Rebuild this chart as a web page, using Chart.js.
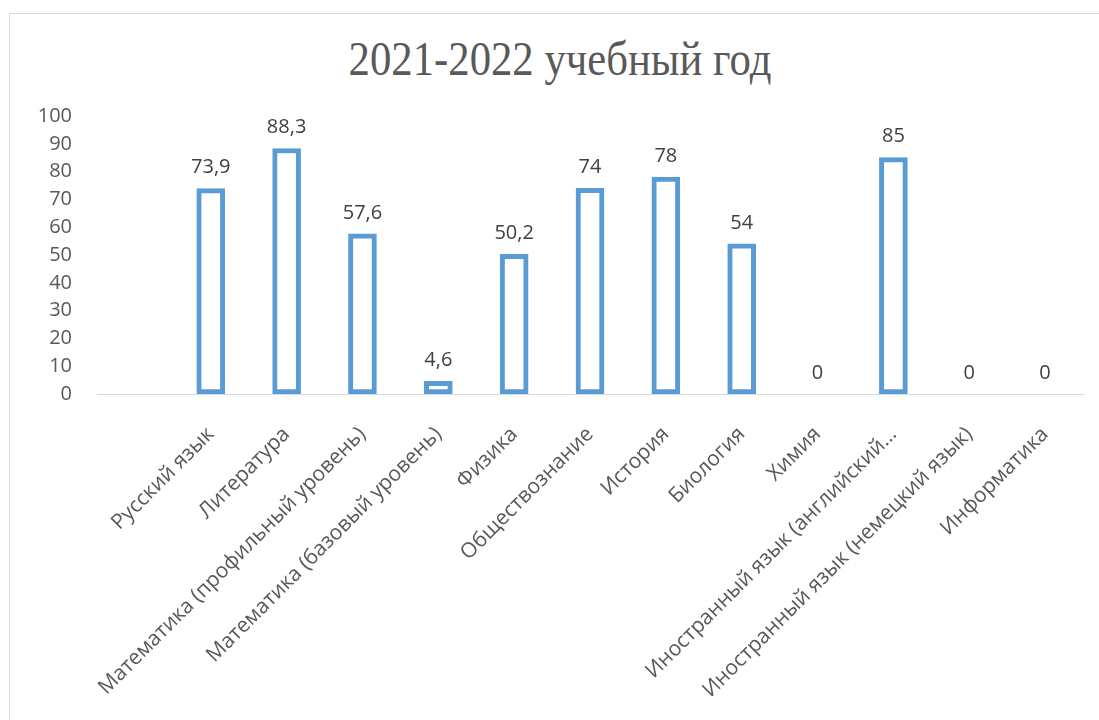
<!DOCTYPE html>
<html>
<head>
<meta charset="utf-8">
<script src="https://cdn.jsdelivr.net/npm/chart.js@4"></script>
<style>
  html, body { margin: 0; padding: 0; background: #fff; overflow: hidden; }
  #frame { position: absolute; left: 9px; top: 13px; width: 1200px; height: 800px; border: 1px solid #d9d9d9; }
  #wrap { position: absolute; left: 0; top: 0; width: 1099px; height: 720px; }
  #title {
    position: absolute; left: 0; top: 35px; width: 1120px;
    text-align: center; white-space: nowrap;
    font-family: 'Liberation Serif', 'Times New Roman', serif;
    font-size: 48px; line-height: 48px; color: #595959;
    transform: scaleX(0.89); transform-origin: 560px 0;
  }
</style>
</head>
<body>
<div id="frame"></div>
<div id="title">2021-2022 учебный год</div>
<div id="wrap"><canvas id="examChart"></canvas></div>
<script>
// Предметы (первая пустая категория как на оригинале)
const subjects = [
  '',
  'Русский язык',
  'Литература',
  'Математика (профильный уровень)',
  'Математика (базовый уровень)',
  'Физика',
  'Обществознание',
  'История',
  'Биология',
  'Химия',
  'Иностранный язык (английский…',
  'Иностранный язык (немецкий язык)',
  'Информатика'
];
// Средний балл
const scores = [null, 73.9, 88.3, 57.6, 4.6, 50.2, 74, 78, 54, 0, 85, 0, 0];
const yTicks = [0, 10, 20, 30, 40, 50, 60, 70, 80, 90, 100];

const textFont = "'Open Sans', 'Noto Sans', sans-serif";

// подписи значений над столбцами
const valueLabels = {
  id: 'valueLabels',
  afterDatasetsDraw(chart) {
    const ctx = chart.ctx;
    const meta = chart.getDatasetMeta(0);
    ctx.save();
    ctx.font = '20px ' + textFont;
    ctx.fillStyle = '#404040';
    ctx.textAlign = 'center';
    ctx.textBaseline = 'bottom';
    meta.data.forEach((bar, i) => {
      const v = scores[i];
      if (v === null) return;
      ctx.fillText(String(v).replace('.', ','), bar.x, bar.y - 11);
    });
    ctx.restore();
  }
};

const ctx = document.getElementById('examChart').getContext('2d');
const myChart = new Chart(ctx, {
  type: 'bar',
  data: {
    labels: subjects,
    datasets: [{
      data: scores,
      backgroundColor: '#ffffff',
      borderColor: '#5b9bd5',
      borderWidth: 5,
      borderSkipped: false,
      barThickness: 28
    }]
  },
  options: {
    responsive: true,
    maintainAspectRatio: false,
    animation: false,
    layout: { padding: { top: 116, right: 16, left: 0, bottom: 24 } },
    plugins: {
      legend: { display: false },
      tooltip: { enabled: false },
      title: { display: false }
    },
    scales: {
      x: {
        afterFit(scale) { scale.height = 302; },
        grid: { display: false, drawTicks: false },
        border: { display: true, color: '#d9d9d9', width: 1 },
        ticks: {
          autoSkip: false,
          minRotation: 45,
          maxRotation: 45,
          padding: 28,
          color: '#595959',
          font: { family: textFont, size: 21 }
        }
      },
      y: {
        min: 0,
        max: 100,
        afterBuildTicks(scale) { scale.ticks = yTicks.map(v => ({ value: v })); },
        afterFit(scale) { scale.width = 97; },
        grid: { display: false, drawTicks: false },
        border: { display: false },
        ticks: {
          padding: 25,
          color: '#595959',
          font: { family: textFont, size: 20 }
        }
      }
    }
  },
  plugins: [valueLabels]
});
</script>
</body>
</html>
